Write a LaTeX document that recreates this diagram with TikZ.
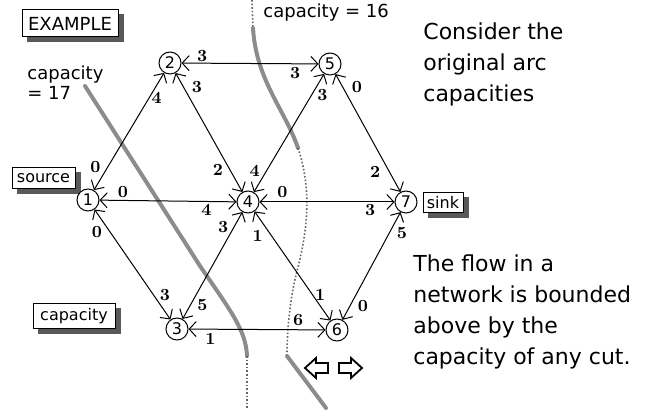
\documentclass[tikz,border=0pt]{standalone}
\usepackage{fontspec}
\newfontfamily\geneva{DejaVu Sans}
\usetikzlibrary{arrows.meta,backgrounds}

\begin{document}
\begin{tikzpicture}[
  x=0.5pt, y=-0.5pt,
  >={Straight Barb[length=3.5pt,width=7.5pt]},
  vtx/.style={draw, circle, fill=white, minimum size=11pt, inner sep=0pt, line width=0.5pt, font=\geneva\fontsize{8}{8}\selectfont},
  link/.style={<->, line width=0.5pt},
  lab/.style={inner sep=0pt, font=\fontsize{8.5}{9}\selectfont\bfseries},
  tagbox/.style={draw, fill=white, line width=0.5pt, inner sep=0pt},
  boxshadow/.style={fill=black!65},
  note/.style={align=left, anchor=north west, inner sep=0pt, font=\geneva\fontsize{11}{15.5}\selectfont},
  cutthick/.style={line width=2pt, black!45, line cap=round},
  cutdots/.style={line width=0.8pt, black!60, densely dotted},
]
  \useasboundingbox (0,0) rectangle (653,410);

  % ---------- cuts ----------
  \draw[cutthick] (85,86) -- (200,266) .. controls (230,310) and (246,330) .. (247,356);
  \draw[cutdots]  (247,356) -- (247,410);
  \draw[cutdots]  (252,0) -- (253,28);
  \draw[cutthick] (253,28) .. controls (256,80) and (285,110) .. (298,148);
  \draw[cutdots]  (298,148) .. controls (312,190) and (308,230) .. (296,275)
                  .. controls (290,300) and (287,330) .. (287,356);
  \draw[cutthick] (287,356) -- (326,408);

  % ---------- network ----------
  \node[vtx] (v1) at (88,200)  {1};
  \node[vtx] (v2) at (170,63)  {2};
  \node[vtx] (v3) at (177,329) {3};
  \node[vtx] (v4) at (248,202) {4};
  \node[vtx] (v5) at (330,64)  {5};
  \node[vtx] (v6) at (337,330) {6};
  \node[vtx] (v7) at (406,202) {7};

  \draw[link] (v1) -- (v2) node[lab, pos=.15, shift={(-9,-6)}] {0} node[lab, pos=.81, shift={(6,3)}] {4};
  \draw[link] (v1) -- (v4) node[lab, pos=.17, shift={(0,-8)}] {0} node[lab, pos=.78, shift={(0,8)}] {4};
  \draw[link] (v1) -- (v3) node[lab, pos=.15, shift={(-9,6)}] {0} node[lab, pos=.82, shift={(8,-5)}] {3};
  \draw[link] (v2) -- (v4) node[lab, pos=.17, shift={(10,-6)}] {3} node[lab, pos=.77, shift={(-9,5)}] {2};
  \draw[link] (v2) -- (v5) node[lab, pos=.15, shift={(0,-7)}] {3} node[lab, pos=.83, shift={(0,9)}] {3};
  \draw[link] (v5) -- (v4) node[lab, pos=.14, shift={(8,5)}] {3} node[lab, pos=.86, shift={(-9,-5)}] {4};
  \draw[link] (v5) -- (v7) node[lab, pos=.16, shift={(11,-6)}] {0} node[lab, pos=.78, shift={(-11,6)}] {2};
  \draw[link] (v4) -- (v7) node[lab, pos=.17, shift={(0,-10)}] {0} node[lab, pos=.82, shift={(0,8)}] {3};
  \draw[link] (v3) -- (v4) node[lab, pos=.18, shift={(9,5)}] {5} node[lab, pos=.81, shift={(-8,-5)}] {3};
  \draw[link] (v4) -- (v6) node[lab, pos=.16, shift={(-9,7)}] {1} node[lab, pos=.80, shift={(5,-4)}] {1};
  \draw[link] (v3) -- (v6) node[lab, pos=.16, shift={(0,10)}] {1} node[lab, pos=.80, shift={(0,-10)}] {6};
  \draw[link] (v6) -- (v7) node[lab, pos=.18, shift={(10,6)}] {0} node[lab, pos=.85, shift={(10,5)}] {5};

  % ---------- boxed tags ----------
  \node[tagbox, minimum width=48pt, minimum height=13.5pt, font=\geneva\fontsize{9}{9}\selectfont]
    (example) at (70,23.5) {EXAMPLE};
  \node[tagbox, minimum width=31.5pt, minimum height=10.5pt, font=\geneva\fontsize{8}{8}\selectfont]
    (source) at (43.5,178.5) {source};
  \node[tagbox, minimum width=20pt, minimum height=10pt, font=\geneva\fontsize{8}{8}\selectfont]
    (sink) at (443,203) {sink};
  \node[tagbox, minimum width=41pt, minimum height=12.5pt, font=\geneva\fontsize{8}{8}\selectfont]
    (capbox) at (74,316) {capacity};
  \begin{scope}[on background layer]
    \foreach \tg in {example,source,sink,capbox}
      \fill[boxshadow] ([xshift=2.5pt,yshift=-2.5pt]\tg.south west) rectangle ([xshift=2.5pt,yshift=-2.5pt]\tg.north east);
  \end{scope}

  % ---------- texts ----------
  \node[align=left, anchor=north west, inner sep=0pt, font=\geneva\fontsize{9}{10}\selectfont]
    (cap17) at (27,65) {capacity\\= 17};
  \node[anchor=base west, inner sep=0pt, font=\geneva\fontsize{9}{10}\selectfont]
    (cap16) at (263,18) {capacity = 16};
  \node[note] (note1) at (423,22) {Consider the\\original arc\\capacities};
  \node[note] (note2) at (413,254) {The flow in a\\network is bounded\\above by the\\capacity of any cut.};

  % ---------- hollow arrows ----------
  \draw[line width=0.9pt, fill=white] (305,368) -- (316,358) -- (316,363) -- (328,363)
    -- (328,373) -- (316,373) -- (316,378) -- cycle;
  \draw[line width=0.9pt, fill=white] (362,368) -- (351,358) -- (351,363) -- (339,363)
    -- (339,373) -- (351,373) -- (351,378) -- cycle;
\end{tikzpicture}
\end{document}
